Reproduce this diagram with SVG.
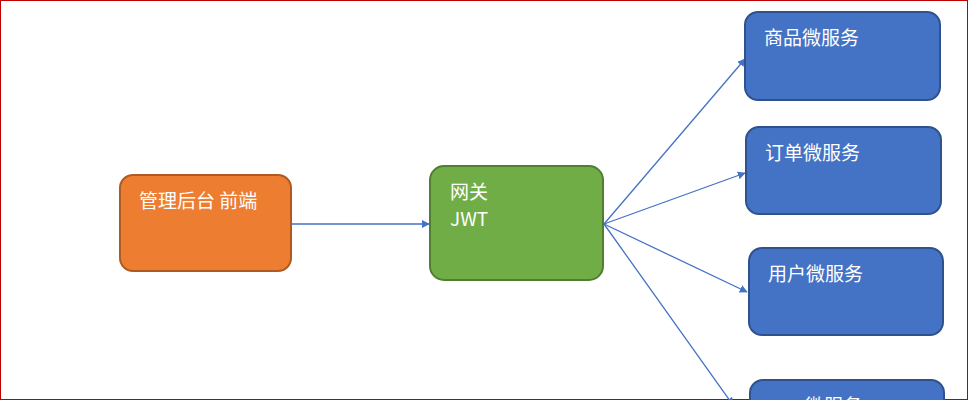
<svg xmlns="http://www.w3.org/2000/svg" width="968" height="400" viewBox="0 0 968 400">
<style>
text{font-family:"Noto Sans CJK SC","Noto Sans",sans-serif;fill:#fff;font-size:19px}
.b rect{fill:#4472C4;stroke:#2F528F;stroke-width:2}
.c line{stroke:#4472C4;stroke-width:1.3;marker-end:url(#a)}
</style>
<defs><marker id="a" viewBox="0 0 10 10" refX="9" refY="5" markerWidth="8" markerHeight="8" markerUnits="userSpaceOnUse" orient="auto"><path d="M0,0L10,5L0,10z" fill="#4472C4"/></marker></defs>
<rect x="0.5" y="0.5" width="967" height="399" fill="#fff" stroke="#C00000"/>
<g class="c">
<line x1="291" y1="224" x2="429" y2="224"/>
<line x1="604" y1="224" x2="745" y2="59"/>
<line x1="604" y1="224" x2="745" y2="173"/>
<line x1="604" y1="224" x2="747" y2="292"/>
<line x1="604" y1="224" x2="733" y2="405"/>
</g>
<g id="frontend"><rect x="120" y="175" width="171" height="96" rx="13" fill="#ED7D31" stroke="#AE5A21" stroke-width="2"/><text x="139" y="208">管理后台 前端</text></g>
<g id="gateway"><rect x="430" y="166" width="173" height="114" rx="14" fill="#70AD47" stroke="#507E32" stroke-width="2"/><text x="450" y="199">网关</text><text x="450" y="226" font-size="17">JWT</text></g>
<g id="goods" class="b"><rect x="745" y="12" width="195" height="88" rx="13"/><text x="764" y="45">商品微服务</text></g>
<g id="order" class="b"><rect x="746" y="127" width="195" height="87" rx="13"/><text x="765" y="160">订单微服务</text></g>
<g id="user" class="b"><rect x="749" y="248" width="194" height="87" rx="13"/><text x="768" y="281">用户微服务</text></g>
<g id="other" class="b"><rect x="750" y="380" width="194" height="87" rx="13"/><text x="805" y="413">微服务</text></g>
</svg>
